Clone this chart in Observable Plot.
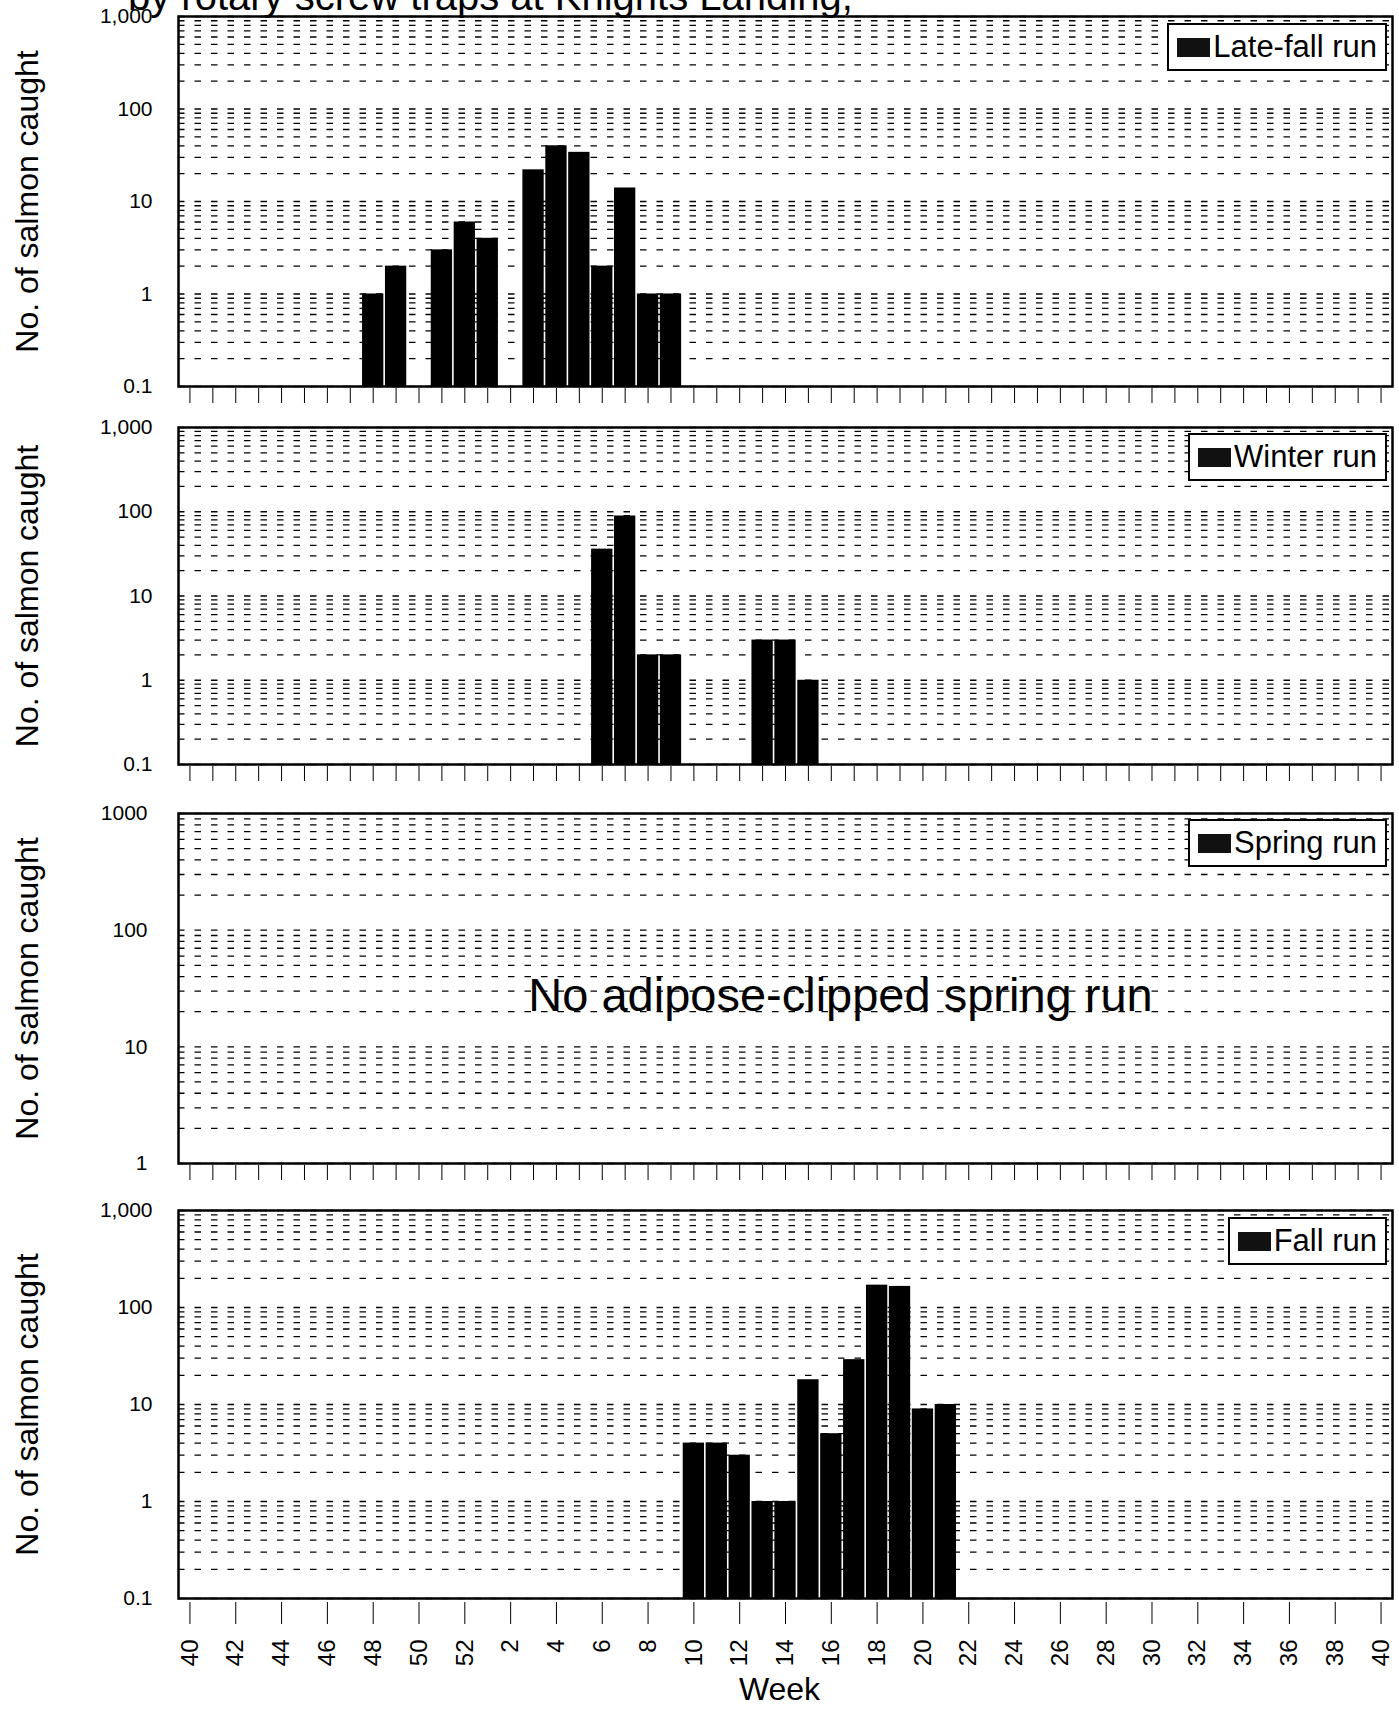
<!DOCTYPE html>
<html><head><meta charset="utf-8">
<script src="https://cdn.jsdelivr.net/npm/d3@7"></script>
<script src="https://cdn.jsdelivr.net/npm/@observablehq/plot@0.6"></script>
<style>
html,body{margin:0;padding:0;background:#fff;overflow:hidden;}
#page{position:relative;width:1399px;height:1709px;font-family:"Liberation Sans",Arial,sans-serif;overflow:hidden;}
.panel{position:absolute;left:0;}
.legend{position:absolute;right:12px;height:44px;border:2px solid #000;background:#fff;display:flex;align-items:center;padding:0 8px 0 8px;font-size:31px;color:#000;white-space:nowrap;}
.legend .sw{width:33px;height:19px;background:#111;margin-right:3px;flex:none;}
#title{position:absolute;left:128px;top:-24px;font-size:40px;line-height:40px;color:#000;white-space:nowrap;}
</style></head><body><div id="page"><div id="title"></div></div>
<script>
// survey weeks (week 40 of one year through week 40 of the next)
const weeks = [40,41,42,43,44,45,46,47,48,49,50,51,52,1,2,3,4,5,6,7,8,9,10,11,12,13,14,15,16,17,18,19,20,21,22,23,24,25,26,27,28,29,30,31,32,33,34,35,36,37,38,39,40];

const lateFallWeeks  = [48,49,51,52,1,3,4,5,6,7,8,9];
const lateFallCounts = [1,2,3,6,4,22,40,34,2,14,1,1];

const winterWeeks  = [6,7,8,9,13,14,15];
const winterCounts = [36,89,2,2,3,3,1];

const springWeeks  = [];
const springCounts = [];

const fallWeeks  = [10,11,12,13,14,15,16,17,18,19,20,21];
const fallCounts = [4,4,3,1,1,18,5,29,170,165,9,10];

const yTicks = [0.1,1,10,100,1000];
const yTickLabels = ["0.1","1","10","100","1,000"];
const springTicks = [1,10,100,1000];
const springTickLabels = ["1","10","100","1000"];

const titleText = "by rotary screw traps at Knights Landing,";
const yTitle = "No. of salmon caught";
const xTitle = "Week";
const springNote = "No adipose-clipped spring run";

const panels = [
  {name:"Late-fall run", wk:lateFallWeeks, ct:lateFallCounts, domain:[0.1,1000], ticks:yTicks, labels:yTickLabels, top:16, bottom:386, legendTop:23},
  {name:"Winter run", wk:winterWeeks, ct:winterCounts, domain:[0.1,1000], ticks:yTicks, labels:yTickLabels, top:427, bottom:764, legendTop:433},
  {name:"Spring run", wk:springWeeks, ct:springCounts, domain:[1,1000], ticks:springTicks, labels:springTickLabels, top:813, bottom:1163, legendTop:819, note:springNote},
  {name:"Fall run", wk:fallWeeks, ct:fallCounts, domain:[0.1,1000], ticks:yTicks, labels:yTickLabels, top:1210, bottom:1598, legendTop:1217, last:true}
];

const page = document.getElementById("page");
document.getElementById("title").textContent = titleText;
const idx = d3.range(weeks.length);
const font = "Liberation Sans, Arial, sans-serif";

for (const p of panels) {
  const mt = 20, mb = p.last ? 111 : 30;
  const h = (p.bottom - p.top) + mt + mb;
  const data = p.wk.map((w, i) => ({week: w, count: p.ct[i]}));
  const grid = d3.scaleLog().domain(p.domain).ticks();
  const marks = [
    Plot.ruleY(grid, {stroke:"#000", strokeWidth:1.3, strokeDasharray:"6.5,10"}),
    Plot.barY(data, {x: d => weeks.indexOf(d.week), y1: p.domain[0], y2: "count", fill:"#000", insetLeft:0.8, insetRight:0.8}),
    Plot.frame({stroke:"#000", strokeWidth:2.5}),
    Plot.axisY(p.ticks, {tickSize:0, tickPadding:p.domain[0] === 1 ? 31 : 26, fontSize:21, tickFormat: d => p.labels[p.ticks.indexOf(d)], label:null}),
    Plot.text([yTitle], {text: d => d, frameAnchor:"left", dx:-151, rotate:-90, fontSize:32, textAnchor:"middle", lineAnchor:"middle"})
  ];
  if (p.last) {
    marks.push(Plot.axisX(d3.range(0, weeks.length, 2), {tickSize:22, tickPadding:15, tickRotate:-90, fontSize:24, tickFormat: i => String(weeks[i]), dy:4, label:null}));
    marks.push(Plot.text([xTitle], {text: d => d, frameAnchor:"bottom", dy:91, dx:-6, fontSize:32, lineAnchor:"middle"}));
  } else {
    marks.push(Plot.axisX(idx, {tickSize:15, tickFormat: () => "", dy:2, label:null}));
  }
  if (p.note) {
    marks.push(Plot.text([p.note], {text: d => d, frameAnchor:"middle", dx:55, dy:7, fontSize:47}));
  }
  const svg = Plot.plot({
    width:1399, height:h,
    marginLeft:178, marginRight:7, marginTop:mt, marginBottom:mb,
    style:{background:"transparent", fontFamily:font, color:"#000", overflow:"visible"},
    x:{type:"band", domain:idx, padding:0, axis:null},
    y:{type:"log", domain:p.domain, axis:null},
    marks
  });
  svg.classList.add("panel");
  svg.style.top = (p.top - mt) + "px";
  page.appendChild(svg);

  const lg = document.createElement("div");
  lg.className = "legend";
  lg.style.top = p.legendTop + "px";
  const sw = document.createElement("span");
  sw.className = "sw";
  const tx = document.createElement("span");
  tx.textContent = p.name;
  lg.appendChild(sw); lg.appendChild(tx);
  page.appendChild(lg);
}
</script></body></html>
